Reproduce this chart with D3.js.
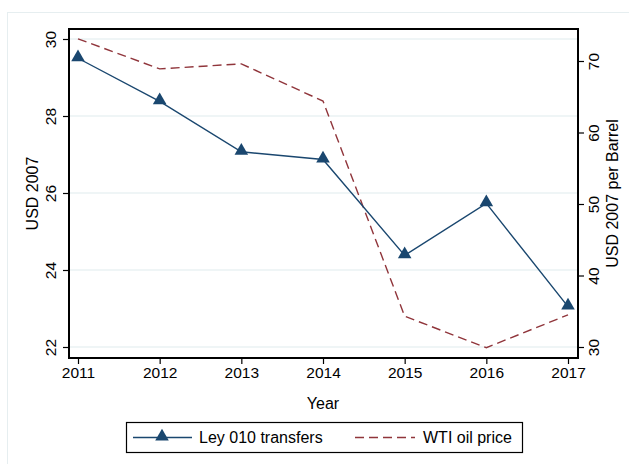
<!DOCTYPE html>
<html>
<head>
<meta charset="utf-8">
<script src="https://cdn.jsdelivr.net/npm/d3@7"></script>
<style>
  body { margin: 0; background: #fff; }
  text { font-family: "Liberation Sans", Arial, sans-serif; fill: #000; }
</style>
</head>
<body>
<div id="chart"></div>
<script>
// values
const years = [2011, 2012, 2013, 2014, 2015, 2016, 2017];
const transfers = [29.5, 28.38, 27.07, 26.87, 24.38, 25.73, 23.05];
const oilPrice = [73.1, 68.9, 69.6, 64.4, 34.3, 29.9, 34.5];
const leftTicks = [22, 24, 26, 28, 30];
const rightTicks = [30, 40, 50, 60, 70];

const W = 629, H = 464;
const plot = { left: 69, right: 578, top: 29, bottom: 358 };
const navy = "#1a476f", maroon = "#90353b";
const fs = "15.5px";

const svg = d3.select("#chart").append("svg")
    .attr("width", W).attr("height", H);

// outer frame
svg.append("rect")
    .attr("x", 7.5).attr("y", 12.5)
    .attr("width", W).attr("height", H)
    .attr("fill", "#fff").attr("stroke", "#e6eef0");

let x = d3.scaleLinear().domain([2011, 2017]).range([78, 568]);
let yL = d3.scaleLinear().domain([22, 30]).range([347, 39]);
let yR = d3.scaleLinear().domain([30, 70]).range([347, 61]);

// grid lines (left axis)
svg.append("g").selectAll("line")
    .data(leftTicks).enter().append("line")
    .attr("x1", plot.left).attr("x2", plot.right)
    .attr("y1", d => yL(d)).attr("y2", d => yL(d))
    .attr("stroke", "#eaf2f3").attr("stroke-width", 1.5);

// left axis
let axL = svg.append("g")
    .attr("transform", "translate(" + plot.left + ",0)")
    .call(d3.axisLeft(yL).tickValues(leftTicks).tickSize(6).tickSizeOuter(0));
axL.select(".domain").remove();
axL.selectAll(".tick text")
    .attr("transform", "rotate(-90)")
    .attr("x", 0).attr("y", -13).attr("dy", 0)
    .style("text-anchor", "middle")
    .style("font-size", fs);

// right axis
let axR = svg.append("g")
    .attr("transform", "translate(" + plot.right + ",0)")
    .call(d3.axisRight(yR).tickValues(rightTicks).tickSize(6).tickSizeOuter(0));
axR.select(".domain").remove();
axR.selectAll(".tick text")
    .attr("transform", "rotate(-90)")
    .attr("x", 0).attr("y", 21).attr("dy", 0)
    .style("text-anchor", "middle")
    .style("font-size", fs);

// bottom axis
let axB = svg.append("g")
    .attr("transform", "translate(0," + plot.bottom + ")")
    .call(d3.axisBottom(x).tickValues(years).tickFormat(d3.format("d")).tickSize(6).tickPadding(3).tickSizeOuter(0));
axB.select(".domain").remove();
axB.selectAll(".tick text").style("font-size", fs);

svg.selectAll(".tick line").attr("stroke", "#000").attr("stroke-width", 1.2);

// series
svg.append("path")
    .datum(years.map((yr, i) => [yr, oilPrice[i]]))
    .attr("fill", "none").attr("stroke", maroon)
    .attr("stroke-width", 1.4).attr("stroke-dasharray", "9,5")
    .attr("d", d3.line().x(d => x(d[0])).y(d => yR(d[1])));

svg.append("path")
    .datum(years.map((yr, i) => [yr, transfers[i]]))
    .attr("fill", "none").attr("stroke", navy)
    .attr("stroke-width", 1.4)
    .attr("d", d3.line().x(d => x(d[0])).y(d => yL(d[1])));

const tri = d3.symbol().type(d3.symbolTriangle).size(80);
svg.append("g").selectAll("path")
    .data(years.map((yr, i) => [yr, transfers[i]]))
    .enter().append("path")
    .attr("d", tri)
    .attr("fill", navy)
    .attr("transform", d => "translate(" + x(d[0]) + "," + (yL(d[1]) - 1) + ")");

// plot frame
svg.append("rect")
    .attr("x", plot.left).attr("y", plot.top)
    .attr("width", plot.right - plot.left).attr("height", plot.bottom - plot.top)
    .attr("fill", "none").attr("stroke", "#000").attr("stroke-width", 2);

// axis titles
svg.append("text")
    .attr("transform", "translate(38," + ((plot.top + plot.bottom) / 2) + ") rotate(-90)")
    .attr("text-anchor", "middle").style("font-size", "16px")
    .text("USD 2007");
svg.append("text")
    .attr("transform", "translate(618," + ((plot.top + plot.bottom) / 2) + ") rotate(-90)")
    .attr("text-anchor", "middle").style("font-size", "16px")
    .text("USD 2007 per Barrel");
svg.append("text")
    .attr("x", (x(2011) + x(2017)) / 2).attr("y", 409)
    .attr("text-anchor", "middle").style("font-size", "16px")
    .text("Year");

// legend
let lg = svg.append("g");
lg.append("rect")
    .attr("x", 126.5).attr("y", 422.5).attr("width", 396).attr("height", 30)
    .attr("fill", "#fff").attr("stroke", "#000").attr("stroke-width", 1.2);
lg.append("line")
    .attr("x1", 133).attr("x2", 192).attr("y1", 437.5).attr("y2", 437.5)
    .attr("stroke", navy).attr("stroke-width", 1.4);
lg.append("path").attr("d", tri).attr("fill", navy)
    .attr("transform", "translate(162,436.5)");
lg.append("text").attr("x", 199).attr("y", 443).style("font-size", "16px")
    .text("Ley 010 transfers");
lg.append("line")
    .attr("x1", 355).attr("x2", 415).attr("y1", 437.5).attr("y2", 437.5)
    .attr("stroke", maroon).attr("stroke-width", 1.4).attr("stroke-dasharray", "9,5");
lg.append("text").attr("x", 423).attr("y", 443).style("font-size", "16px")
    .text("WTI oil price");
</script>
</body>
</html>
